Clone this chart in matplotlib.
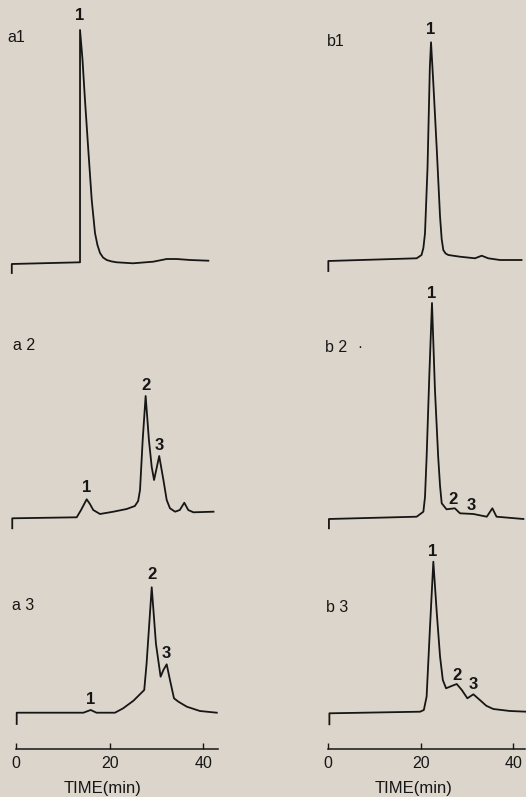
import matplotlib
matplotlib.use("Agg")
import matplotlib.pyplot as plt
from matplotlib.transforms import blended_transform_factory

# ---------------- data (time in min, detector signal in arbitrary units) ----------------
a1_time = [-0.9, -0.9, 13.68, 13.68, 14.2, 14.74, 15.45, 16.18, 16.88, 17.4, 17.95, 18.6, 19.38, 20.4, 21.5,
           25.0, 29.3, 32.2, 34.3, 37.2, 41.1]
a1_signal = [-9, 0, 1.7, 234, 205, 164, 114, 64, 31, 19, 11, 6.5, 4, 2.6, 1.7,
             0.7, 2.3, 5, 5, 4, 3.3]

a2_time = [-0.8, -0.8, 12.97, 13.9, 15.1, 15.8, 16.5, 17.95, 20.8, 23.65, 25.4, 26.1, 26.5, 27.07, 27.7,
           28.4, 29.0, 29.5, 30.1, 30.6, 31.5, 32.2, 32.9, 34.0, 35.0, 35.96, 36.8, 37.9, 42.2]
a2_signal = [-9.3, 0.7, 1.7, 9, 19.7, 15, 9, 5, 7.3, 10, 13, 18, 29, 79, 123,
             79, 52, 39, 52, 63, 39, 19, 10.7, 7.3, 9, 16.3, 9, 6.7, 7.3]

a3_time = [0.15, 0.15, 14.4, 15.96, 17.2, 21.15, 22.9, 25.1, 27.4, 27.9, 29.0, 29.9, 30.9, 31.5, 32.2,
           32.9, 33.76, 34.7, 36.5, 39.3, 42.9]
a3_signal = [-10.3, 1, 1, 3.7, 1, 1, 5.4, 13, 23.7, 50, 126.4, 70, 37, 43.7, 49.4,
             33.7, 15.4, 12, 7, 2.7, 1]

b1_time = [0.07, 0.07, 19.15, 20.2, 20.6, 20.95, 21.5, 22.0, 22.25, 22.75, 23.5, 24.2, 24.55, 24.9, 25.4,
           26.0, 28.5, 31.75, 33.2, 34.6, 37.15, 41.8]
b1_signal = [-10, 0, 2.7, 6, 13, 27.7, 94, 194, 218.7, 177.7, 111, 44.3, 22, 11, 7.5,
             6, 4.3, 2.7, 5.3, 2.7, 1, 1]

b2_time = [0.2, 0.2, 19.15, 20.6, 20.95, 21.3, 21.9, 22.46, 23.1, 23.8, 24.2, 24.56, 25.6, 27.4, 28.5,
           31.4, 34.3, 35.5, 36.4, 42.2]
b2_signal = [-9.3, 0, 2.3, 7.3, 22, 62, 145.7, 216, 129, 62, 33, 15.7, 9.7, 10.7, 5.7,
             5, 2.3, 10.7, 2.3, 0]

b3_time = [0.3, 0.3, 19.9, 20.7, 21.3, 22.0, 22.75, 23.5, 24.2, 24.8, 25.5, 26.7, 27.8, 28.9, 30.1,
           31.4, 32.8, 34.2, 35.7, 39.3, 42.9]
b3_signal = [-11, 0, 1.6, 3.3, 16.7, 83.3, 151.6, 100, 56.7, 33.3, 25, 27.3, 29.3, 23.3, 15,
             19, 13.3, 7.5, 4.3, 2.3, 1.6]

panel_names = ["a1", "a2", "a3", "b1", "b2", "b3"]

# peak labels: (time, signal height of label centre, text)
a1_peaks = [(13.7, 248, "1")]
a2_peaks = [(15.1, 31, "1"), (27.7, 134, "2"), (30.7, 74, "3")]
a3_peaks = [(15.96, 14, "1"), (29.0, 139, "2"), (32.2, 60, "3")]
b1_peaks = [(22.1, 231, "1")]
b2_peaks = [(22.3, 226, "1"), (27.1, 20, "2"), (31.0, 14, "3")]
b3_peaks = [(22.6, 162, "1"), (27.8, 38, "2"), (31.4, 29, "3")]

time_ticks = [0, 20, 40]
time_label = "TIME(min)"

# ---------------- layout ----------------
W, H = 526, 797
BG = "#dcd5cb"
INK = "#161616"
fig = plt.figure(figsize=(W / 100, H / 100), dpi=100)
fig.patch.set_facecolor(BG)

FONT = ["Liberation Sans", "DejaVu Sans"]
NARROW = ["Liberation Sans Narrow", "Liberation Sans", "DejaVu Sans"]


def px_axes(x0, x1, y_top, y_bottom):
    ax = fig.add_axes([x0 / W, 1 - y_bottom / H, (x1 - x0) / W, (y_bottom - y_top) / H])
    ax.set_facecolor("none")
    return ax


columns = {
    "a": dict(origin=16.0, scale=4.68, xlim=(-3, 44)),
    "b": dict(origin=328.0, scale=4.63, xlim=(-3, 42.5)),
}
rows = [(0, 285), (285, 535), (535, 735)]
baseline_px = {"a1": 264, "a2": 519, "a3": 713.7, "b1": 261, "b2": 519, "b3": 713.3}

traces = {
    "a1": (a1_time, a1_signal, a1_peaks),
    "a2": (a2_time, a2_signal, a2_peaks),
    "a3": (a3_time, a3_signal, a3_peaks),
    "b1": (b1_time, b1_signal, b1_peaks),
    "b2": (b2_time, b2_signal, b2_peaks),
    "b3": (b3_time, b3_signal, b3_peaks),
}

for name in panel_names:
    col = columns[name[0]]
    r = int(name[1]) - 1
    T, B = rows[r]
    R = baseline_px[name]
    x0 = col["origin"] + col["xlim"][0] * col["scale"]
    x1 = col["origin"] + col["xlim"][1] * col["scale"]
    ax = px_axes(x0, x1, T, B)
    ax.set_xlim(*col["xlim"])
    ax.set_ylim(R - B, R - T)
    ax.axis("off")
    t, s, peaks = traces[name]
    ax.plot(t, s, color=INK, lw=1.3, solid_joinstyle="round", clip_on=False)
    for pt, ph, lab in peaks:
        ax.text(pt, ph, lab, ha="center", va="center", fontsize=12, fontweight="bold",
                family=NARROW, color=INK)

# panel labels (figure pixel positions)
label_pos = {"a1": (7, 37), "a2": (13, 345), "a3": (12, 605),
             "b1": (327, 42), "b2": (325, 347), "b3": (326, 607)}
for name, (x, y) in label_pos.items():
    fig.text(x / W, 1 - y / H, name[0] + " " + name[1] if name[1] != "1" else name,
             ha="left", va="center", fontsize=11.5, family=FONT, color=INK)
fig.text(360 / W, 1 - 347 / H, "·", ha="center", va="center", fontsize=11, family=FONT, color=INK)

# time axes
for key, right_bound in (("a", 43.2), ("b", 42.5)):
    col = columns[key]
    x0 = col["origin"] + col["xlim"][0] * col["scale"]
    x1 = col["origin"] + col["xlim"][1] * col["scale"]
    ax = px_axes(x0, x1, 735, 749)
    ax.set_xlim(*col["xlim"])
    ax.set_ylim(0, 1)
    for sp in ("top", "left", "right"):
        ax.spines[sp].set_visible(False)
    ax.spines["bottom"].set_bounds(0, right_bound)
    ax.spines["bottom"].set_color(INK)
    ax.spines["bottom"].set_linewidth(1.1)
    ax.set_yticks([])
    ax.set_xticks(time_ticks)
    ax.set_xticklabels([str(v) for v in time_ticks])
    ax.tick_params(axis="x", direction="in", length=4, width=1.0, color=INK, pad=5,
                   labelsize=11.5, labelcolor=INK)
    for lab in ax.get_xticklabels():
        lab.set_family(FONT)
    tr = blended_transform_factory(ax.transData, fig.transFigure)
    ax.text(18.5, 1 - 789 / H, time_label, transform=tr, ha="center", va="center",
            fontsize=12, family=FONT, color=INK)

fig.savefig("out.png", dpi=100, facecolor=BG)
